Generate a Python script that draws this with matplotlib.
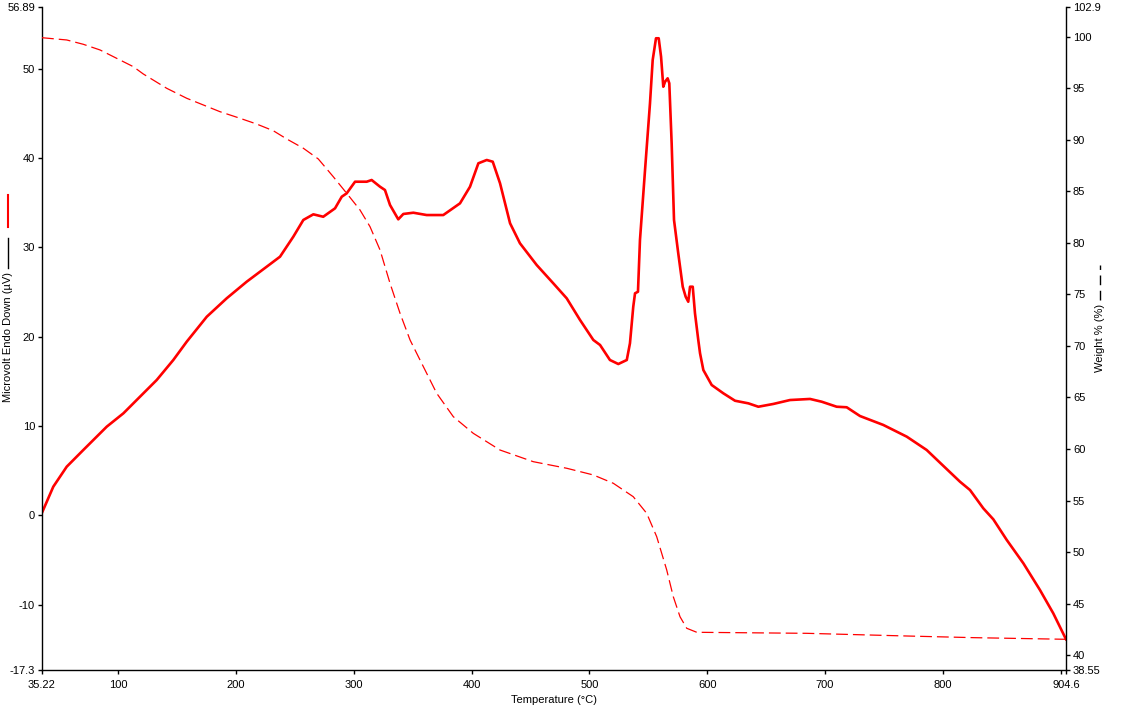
import matplotlib
matplotlib.use("Agg")
import matplotlib.pyplot as plt
from matplotlib.lines import Line2D

# ---- DTA signal (Microvolt Endo Down, µV) ----
dta_temp = [35.22, 44.8, 56.2, 70.3, 90.2, 104.3, 118.4, 132.6, 146.7, 158.1,
            175.1, 192.0, 209.0, 226.0, 237.3, 248.6, 257.1, 265.6, 274.0, 284.0,
            289.7, 293.9, 301.0, 310.9, 315.1, 322.2, 326.4, 330.7, 337.7, 342.0,
            350.5, 361.8, 375.9, 390.1, 398.6, 405.7, 412.8, 417.9, 424.1, 432.6,
            441.0, 455.2, 469.3, 480.7, 492.0, 503.3, 509.0, 517.4, 524.5, 531.7,
            534.4, 537.2, 538.7, 541.2, 542.9, 547.2, 551.4, 553.7, 556.5, 558.8,
            560.8, 562.7, 564.2, 566.4, 567.8, 569.8, 571.8, 575.4, 579.2, 581.7,
            583.9, 585.4, 587.7, 589.6, 592.4, 593.9, 596.7, 603.8, 613.7, 623.6,
            634.9, 643.4, 656.1, 670.3, 687.3, 697.2, 709.9, 718.4, 729.7, 749.5,
            769.4, 786.3, 797.6, 814.6, 823.1, 834.4, 842.9, 854.3, 868.4, 882.5,
            893.8, 904.6]
dta_uv = [0.30, 3.21, 5.45, 7.32, 9.93, 11.42, 13.28, 15.15, 17.39, 19.44,
          22.23, 24.29, 26.15, 27.83, 28.95, 31.19, 33.06, 33.69, 33.42, 34.36,
          35.66, 36.04, 37.34, 37.34, 37.53, 36.78, 36.41, 34.73, 33.13, 33.73,
          33.87, 33.61, 33.61, 34.92, 36.78, 39.40, 39.77, 39.58, 37.16, 32.69,
          30.45, 28.02, 25.97, 24.29, 21.87, 19.63, 19.07, 17.39, 16.94, 17.39,
          19.26, 23.35, 24.85, 25.03, 30.82, 38.65, 46.11, 50.96, 53.39, 53.39,
          51.33, 47.97, 48.53, 48.91, 48.35, 41.64, 33.06, 29.33, 25.59, 24.47,
          23.91, 25.59, 25.59, 22.62, 19.63, 18.14, 16.27, 14.59, 13.66, 12.83,
          12.54, 12.16, 12.47, 12.91, 13.03, 12.72, 12.16, 12.10, 11.12, 10.12,
          8.81, 7.32, 5.90, 3.77, 2.84, 0.79, -0.44, -2.75, -5.36, -8.35,
          -10.96, -13.86]

# ---- TG signal (Weight %) ----
tg_temp = [35.22, 56.2, 70.3, 84.5, 98.6, 112.7, 121.2, 141.1, 158.1, 172.2,
           186.3, 203.3, 217.5, 231.6, 243.0, 257.1, 269.8, 282.5, 293.9, 305.2,
           313.7, 322.2, 330.7, 339.2, 347.7, 359.0, 370.3, 384.4, 401.4, 424.1,
           452.3, 480.7, 503.3, 520.3, 537.2, 548.6, 557.1, 565.6, 571.2, 576.9,
           582.6, 591.1, 684.5, 769.4, 825.9, 904.6]
tg_weight = [99.92, 99.70, 99.28, 98.73, 97.92, 97.11, 96.40, 95.01, 94.04, 93.39,
             92.74, 92.10, 91.54, 90.89, 90.09, 89.19, 88.15, 86.43, 84.82, 83.20,
             81.58, 79.32, 76.08, 73.17, 70.58, 67.99, 65.41, 63.14, 61.52, 59.90,
             58.77, 58.13, 57.48, 56.67, 55.37, 53.76, 51.49, 48.26, 45.66, 43.72,
             42.60, 42.21, 42.11, 41.85, 41.69, 41.53]

x_ticks = [35.22, 100, 200, 300, 400, 500, 600, 700, 800, 900, 904.6]
x_labels = ["35.22", "100", "200", "300", "400", "500", "600", "700", "800", "", "904.6"]
left_ticks = [-17.3, -10, 0, 10, 20, 30, 40, 50, 56.89]
left_labels = ["-17.3", "-10", "0", "10", "20", "30", "40", "50", "56.89"]
right_ticks = [38.55, 40, 45, 50, 55, 60, 65, 70, 75, 80, 85, 90, 95, 100, 102.9]
right_labels = ["38.55", "40", "45", "50", "55", "60", "65", "70", "75", "80",
                "85", "90", "95", "100", "102.9"]

plt.rcParams['font.family'] = ['Liberation Sans', 'DejaVu Sans']
plt.rcParams['lines.scale_dashes'] = False

fig = plt.figure(figsize=(11.21, 7.09), dpi=100)
ax = fig.add_axes([42/1121, 39/709, 1024/1121, 663/709])
ax2 = ax.twinx()

ax.plot(dta_temp, dta_uv, color='#ff0000', lw=1.9, solid_joinstyle='round')
ax2.plot(tg_temp, tg_weight, color='#ff0000', lw=0.9, dashes=(8.5, 3.6))

ax.set_xlim(35.22, 904.6)
ax.set_ylim(-17.3, 56.89)
ax2.set_ylim(38.55, 102.9)

ax.set_xticks(x_ticks)
ax.set_xticklabels(x_labels)
ax.set_yticks(left_ticks)
ax.set_yticklabels(left_labels)
ax2.set_yticks(right_ticks)
ax2.set_yticklabels(right_labels)

for a in (ax, ax2):
    a.spines['top'].set_visible(False)
    for s in a.spines.values():
        s.set_linewidth(1.0)
        s.set_color('black')
    a.tick_params(direction='out', length=3, width=1.0, labelsize=8, pad=2, colors='black')
ax.tick_params(axis='x', pad=4)
ax2.spines['left'].set_visible(False)
ax2.spines['bottom'].set_visible(False)
ax.spines['right'].set_visible(False)

ax.set_xlabel("Temperature (°C)", fontsize=8, labelpad=4)

# left axis title with series marker
fig.text(8/1121, 1 - 337/709, "Microvolt Endo Down (µV)", rotation=90,
         fontsize=8, ha='center', va='center')
fig.add_artist(Line2D([8/1121, 8/1121], [1 - 227/709, 1 - 195/709],
                      color='#ff0000', lw=1.5, transform=fig.transFigure))
fig.add_artist(Line2D([8/1121, 8/1121], [1 - 268/709, 1 - 238/709],
                      color='black', lw=1.0, transform=fig.transFigure))

# right axis title with series marker
fig.text(1100/1121, 1 - 338/709, "Weight % (%)", rotation=90,
         fontsize=8, ha='center', va='center')
fig.add_artist(Line2D([1100/1121, 1100/1121], [1 - 300/709, 1 - 265/709],
                      color='black', lw=1.0, dashes=(7, 4), transform=fig.transFigure))

fig.savefig("out.png", dpi=100)
